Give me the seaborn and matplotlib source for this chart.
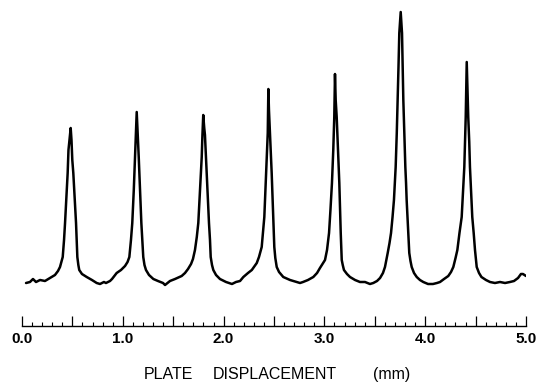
import matplotlib
matplotlib.use("Agg")
import matplotlib.pyplot as plt
import seaborn as sns
import pandas as pd
from matplotlib.ticker import MultipleLocator, FuncFormatter

# Trace: plate displacement (mm) vs. detector signal (arbitrary units)
displacement_mm = [
    0.040, 0.079, 0.109, 0.139, 0.179, 0.228, 0.278, 0.327, 0.357, 0.377,
    0.404, 0.417, 0.427, 0.441, 0.453, 0.461, 0.471, 0.483, 0.491, 0.499,
    0.509, 0.521, 0.536, 0.549, 0.559, 0.568, 0.595, 0.642, 0.694, 0.741,
    0.774, 0.813, 0.833, 0.873, 0.893, 0.939, 0.982, 1.022, 1.047, 1.065,
    1.081, 1.094, 1.109, 1.121, 1.131, 1.138, 1.146, 1.158, 1.171, 1.184,
    1.193, 1.203, 1.215, 1.230, 1.260, 1.303, 1.349, 1.399, 1.419,
    1.468, 1.518, 1.584, 1.617, 1.647, 1.677, 1.696, 1.716, 1.734, 1.749,
    1.766, 1.783, 1.790, 1.798, 1.808, 1.815, 1.825, 1.840, 1.855, 1.865,
    1.872, 1.885, 1.898, 1.925, 1.964, 2.024, 2.083,
    2.123, 2.163, 2.196, 2.242, 2.280, 2.329, 2.351, 2.378, 2.391, 2.404,
    2.413, 2.421, 2.431, 2.438, 2.444, 2.450, 2.460, 2.470, 2.477, 2.485,
    2.493, 2.503, 2.513, 2.527, 2.550, 2.592, 2.659, 2.725,
    2.758, 2.788, 2.837, 2.890, 2.927, 2.956, 2.981, 3.006, 3.026, 3.046,
    3.060, 3.075, 3.088, 3.098, 3.105, 3.112, 3.122, 3.135, 3.148, 3.155,
    3.162, 3.172, 3.182, 3.194, 3.224, 3.254, 3.304, 3.353, 3.403, 3.452,
    3.485,
    3.522, 3.552, 3.581, 3.601, 3.628, 3.646, 3.661, 3.676, 3.690, 3.707,
    3.718, 3.727, 3.735, 3.743, 3.757, 3.763, 3.770, 3.777, 3.783, 3.793,
    3.803, 3.810, 3.816, 3.824, 3.832, 3.842, 3.854, 3.866, 3.889, 3.916,
    3.948, 3.981,
    4.028, 4.077, 4.117, 4.147, 4.187, 4.229, 4.256, 4.279, 4.301, 4.319,
    4.340, 4.362, 4.375, 4.388, 4.402, 4.412, 4.420, 4.427, 4.437, 4.444,
    4.456, 4.467, 4.481, 4.494, 4.511, 4.534, 4.558, 4.603, 4.643,
    4.692, 4.742, 4.792, 4.841, 4.881, 4.921, 4.950, 4.970, 5.000,
]
signal = [
    1, 2, 5, 2, 4, 3, 6, 9, 13, 17,
    27, 44, 61, 89, 111, 134, 144, 156, 144, 124,
    111, 89, 61, 27, 19, 14, 10, 7, 4, 1,
    0, 2, 1, 3, 5, 11, 14, 18, 22, 27,
    44, 61, 94, 127, 154, 172, 154, 127, 94, 61,
    44, 27, 19, 14, 9, 5, 3, 1, -1,
    3, 5, 8, 11, 15, 20, 25, 34, 47, 61,
    94, 127, 149, 169, 156, 149, 127, 94, 61, 44,
    27, 19, 14, 9, 5, 2, 0,
    2, 3, 7, 11, 14, 21, 27, 37, 52, 67,
    89, 111, 134, 151, 195, 174, 151, 129, 111, 89,
    67, 37, 26, 17, 12, 7, 4, 2,
    1, 2, 4, 7, 11, 16, 20, 24, 34, 51,
    74, 101, 134, 167, 210, 184, 167, 134, 101, 74,
    51, 24, 19, 14, 10, 7, 4, 2, 2, 0,
    1,
    3, 6, 11, 17, 31, 41, 51, 67, 84, 117,
    151, 184, 217, 251, 272, 262, 251, 217, 184, 151,
    117, 101, 84, 67, 51, 31, 23, 17, 11, 7,
    4, 2,
    0, 0, 1, 2, 5, 8, 12, 17, 26, 34,
    51, 67, 92, 117, 167, 222, 194, 167, 142, 117,
    92, 67, 51, 34, 17, 11, 7, 4, 2,
    1, 2, 1, 2, 3, 6, 10, 10, 8,
]
tick_values = [0.0, 1.0, 2.0, 3.0, 4.0, 5.0]
tick_labels = ["0.0", "1.0", "2.0", "3.0", "4.0", "5.0"]
xlabel_words = ["PLATE", "DISPLACEMENT", "(mm)"]

df = pd.DataFrame({"x": displacement_mm, "y": signal})

sns.set_theme(style="white")
plt.rcParams["font.family"] = ["Liberation Sans", "DejaVu Sans"]

fig = plt.figure(figsize=(5.36, 3.84), dpi=100)
ax = fig.add_axes([22 / 536, 58 / 384, 504 / 536, 321 / 384])
sns.lineplot(data=df, x="x", y="y", color="black", linewidth=1.8,
             estimator=None, sort=False, ax=ax)

ax.set_xlim(0, 5)
ax.set_ylim(-42, 279)
for s in ("left", "top", "right"):
    ax.spines[s].set_visible(False)
ax.spines["bottom"].set_color("black")
ax.spines["bottom"].set_linewidth(1.0)
ax.set_yticks([])
ax.set_xlabel("")
ax.set_ylabel("")

ax.xaxis.set_major_locator(MultipleLocator(0.5))
ax.xaxis.set_minor_locator(MultipleLocator(0.1))
labels_map = dict(zip(tick_values, tick_labels))
ax.xaxis.set_major_formatter(FuncFormatter(
    lambda v, p: labels_map.get(round(v, 1), "")))
ax.tick_params(axis="x", which="major", direction="in", length=7, width=0.9,
               color="black", pad=4.5, labelsize=11, labelcolor="black",
               bottom=True)
ax.tick_params(axis="x", which="minor", direction="in", length=3, width=0.8,
               color="black", bottom=True)
for lab in ax.get_xticklabels():
    lab.set_fontweight("bold")

# x-axis title, word by word as in the original lettering
word_centers_px = [168, 275, 392]
for w, cx in zip(xlabel_words, word_centers_px):
    fig.text(cx / 536, 4.7 / 384, w, ha="center", va="baseline",
             fontsize=11.5, color="black")

fig.savefig("out.png", dpi=100)
